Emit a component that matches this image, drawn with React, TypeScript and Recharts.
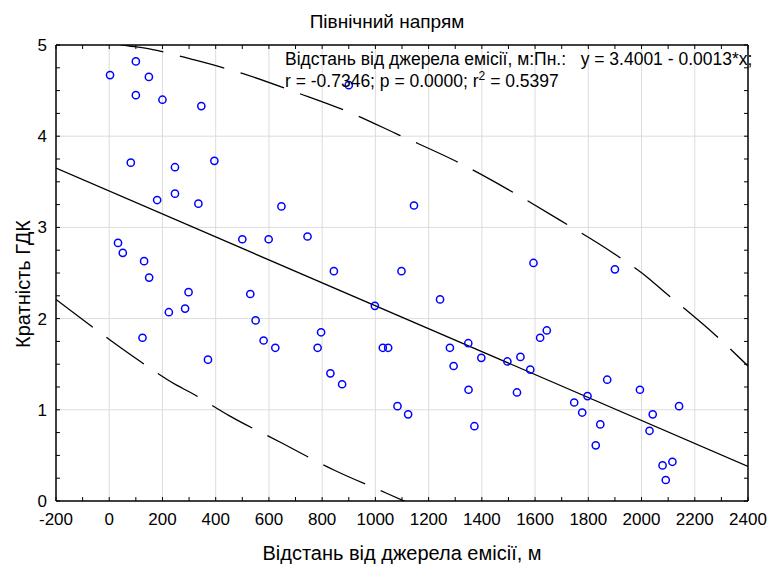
import React from 'react';
import { ComposedChart, XAxis, YAxis, Scatter, Line, ReferenceLine } from 'recharts';

const distX = [3, 100, 149, 100, 200, 346, 900, 81, 247, 395, 180, 247, 335, 647, 500, 599, 745, 844, 1098, 33, 51, 131, 150, 298, 224, 285, 530, 550, 125, 580, 624, 371, 783, 796, 831, 875, 998, 1028, 1048, 1083, 1123, 1243, 1594, 1900, 1145, 1280, 1349, 1294, 1398, 1350, 1372, 1496, 1545, 1582, 1532, 1619, 1644, 1747, 1797, 1777, 1871, 1845, 1828, 1994, 2042, 2030, 2141, 2079, 2116, 2091];
const ratioY = [4.67, 4.82, 4.65, 4.45, 4.40, 4.33, 4.56, 3.71, 3.66, 3.73, 3.30, 3.37, 3.26, 3.23, 2.87, 2.87, 2.90, 2.52, 2.52, 2.83, 2.72, 2.63, 2.45, 2.29, 2.07, 2.11, 2.27, 1.98, 1.79, 1.76, 1.68, 1.55, 1.68, 1.85, 1.40, 1.28, 2.14, 1.68, 1.68, 1.04, 0.95, 2.21, 2.61, 2.54, 3.24, 1.68, 1.73, 1.48, 1.57, 1.22, 0.82, 1.53, 1.58, 1.44, 1.19, 1.79, 1.87, 1.08, 1.15, 0.97, 1.33, 0.84, 0.61, 1.22, 0.95, 0.77, 1.04, 0.39, 0.43, 0.23];

const fitX = [-200, 2400];
const fitY = [3.65, 0.38];

const upperX = [-200, 52, 164, 315, 503, 703, 904, 1091, 1303, 1496, 1690, 1890, 2027, 2083, 2277, 2400];
const upperY = [5.13, 5.0, 4.95, 4.84, 4.686, 4.48, 4.26, 4.01, 3.725, 3.42, 3.085, 2.725, 2.44, 2.30, 1.82, 1.48];

const lowerX = [-200, 3, 109, 253, 302, 452, 652, 846, 1040, 1200];
const lowerY = [2.21, 1.766, 1.546, 1.27, 1.195, 0.934, 0.63, 0.337, 0.088, -0.12];

const xTicks = [-200, -100, 0, 100, 200, 300, 400, 500, 600, 700, 800, 900, 1000, 1100, 1200, 1300, 1400, 1500, 1600, 1700, 1800, 1900, 2000, 2100, 2200, 2300, 2400];
const xMajor = [-200, 0, 200, 400, 600, 800, 1000, 1200, 1400, 1600, 1800, 2000, 2200, 2400];
const yTicks = [0, 0.25, 0.5, 0.75, 1, 1.25, 1.5, 1.75, 2, 2.25, 2.5, 2.75, 3, 3.25, 3.5, 3.75, 4, 4.25, 4.5, 4.75, 5];
const yMajor = [0, 1, 2, 3, 4, 5];
const xGrid = [0, 200, 400, 600, 800, 1000, 1200, 1400, 1600, 1800, 2000, 2200];
const yGrid = [1, 2, 3, 4];

const title = 'Північний напрям';
const xLabel = 'Відстань від джерела емісії, м';
const yLabel = 'Кратність ГДК';
const note1 = 'Відстань від джерела емісії, м:Пн.:   y = 3.4001 - 0.0013*x;';
const note2a = 'r = -0.7346; p = 0.0000; r';
const note2b = ' = 0.5397';

const pts = distX.map((x, i) => ({ x, y: ratioY[i] }));
const fit = fitX.map((x, i) => ({ x, y: fitY[i] }));
const upper = upperX.map((x, i) => ({ x, y: upperY[i] }));
const lower = lowerX.map((x, i) => ({ x, y: lowerY[i] }));

const FONT = '"Liberation Sans", Arial, sans-serif';
const TL = 4;

const BottomTick = (p: any) => {
  const v = p.payload.value;
  return (
    <g>
      <line x1={p.x} x2={p.x} y1={p.y} y2={p.y - TL} stroke="#000" strokeWidth={1} />
      {xMajor.includes(v) && (
        <text x={p.x} y={p.y + 24} textAnchor="middle" fontFamily={FONT} fontSize={17} fill="#000">{v}</text>
      )}
    </g>
  );
};
const TopTick = (p: any) => (
  <line x1={p.x} x2={p.x} y1={p.y} y2={p.y + TL} stroke="#000" strokeWidth={1} />
);
const LeftTick = (p: any) => {
  const v = p.payload.value;
  return (
    <g>
      <line x1={p.x} x2={p.x + TL} y1={p.y} y2={p.y} stroke="#000" strokeWidth={1} />
      {yMajor.includes(v) && (
        <text x={p.x - 9} y={p.y + 6} textAnchor="end" fontFamily={FONT} fontSize={17} fill="#000">{v}</text>
      )}
    </g>
  );
};
const RightTick = (p: any) => (
  <line x1={p.x} x2={p.x - TL} y1={p.y} y2={p.y} stroke="#000" strokeWidth={1} />
);

const Ring = (p: any) => (
  <circle cx={p.cx} cy={p.cy} r={3.6} fill="none" stroke="#0000ff" strokeWidth={1.5} />
);

export default function App() {
  return (
    <div style={{ position: 'absolute', left: 0, top: 0, width: 767, height: 565, background: '#fff' }}>
      <ComposedChart width={767} height={565} margin={{ top: 40, right: 14, left: 0, bottom: 0 }}>
        <XAxis xAxisId="b" type="number" dataKey="x" orientation="bottom" domain={[-200, 2400]} ticks={xTicks}
          interval={0} allowDataOverflow height={64} tickSize={0} tickMargin={0} tickLine={false}
          axisLine={{ stroke: '#000', strokeWidth: 1.5 }} tick={BottomTick} />
        <XAxis xAxisId="t" type="number" dataKey="x" orientation="top" domain={[-200, 2400]} ticks={xTicks}
          interval={0} allowDataOverflow height={5} tickSize={0} tickMargin={0} tickLine={false}
          axisLine={{ stroke: '#000', strokeWidth: 1.5 }} tick={TopTick} />
        <YAxis yAxisId="l" type="number" dataKey="y" orientation="left" domain={[0, 5]} ticks={yTicks}
          interval={0} allowDataOverflow width={56} tickSize={0} tickMargin={0} tickLine={false}
          axisLine={{ stroke: '#000', strokeWidth: 1.5 }} tick={LeftTick} />
        <YAxis yAxisId="r" type="number" dataKey="y" orientation="right" domain={[0, 5]} ticks={yTicks}
          interval={0} allowDataOverflow width={5} tickSize={0} tickMargin={0} tickLine={false}
          axisLine={{ stroke: '#000', strokeWidth: 1.5 }} tick={RightTick} />
        {xGrid.map((v) => (
          <ReferenceLine key={'gx' + v} xAxisId="b" yAxisId="l" x={v} stroke="#dcdcdc" strokeWidth={1} />
        ))}
        {yGrid.map((v) => (
          <ReferenceLine key={'gy' + v} xAxisId="b" yAxisId="l" y={v} stroke="#dcdcdc" strokeWidth={1} />
        ))}
        <Line xAxisId="b" yAxisId="l" data={upper} dataKey="y" type="monotone" stroke="#000" strokeWidth={1.3}
          strokeDasharray="46 17" dot={false} isAnimationActive={false} />
        <Line xAxisId="b" yAxisId="l" data={lower} dataKey="y" type="monotone" stroke="#000" strokeWidth={1.3}
          strokeDasharray="46 17" dot={false} isAnimationActive={false} />
        <Line xAxisId="b" yAxisId="l" data={fit} dataKey="y" type="linear" stroke="#000" strokeWidth={1.3}
          dot={false} isAnimationActive={false} />
        <Scatter xAxisId="b" yAxisId="l" data={pts} dataKey="y" shape={Ring} isAnimationActive={false} />
      </ComposedChart>
      <svg width={767} height={565} style={{ position: 'absolute', left: 0, top: 0, pointerEvents: 'none' }}>
        <text x={387} y={28} textAnchor="middle" fontFamily={FONT} fontSize={19} fill="#000">{title}</text>
        <text x={285} y={65} fontFamily={FONT} fontSize={17.5} fill="#000" style={{ whiteSpace: 'pre' }}>{note1}</text>
        <text x={285} y={87} fontFamily={FONT} fontSize={17.5} fill="#000">
          {note2a}
          <tspan dy={-7} fontSize={12}>2</tspan>
          <tspan dy={7}>{note2b}</tspan>
        </text>
        <text x={402} y={560} textAnchor="middle" fontFamily={FONT} fontSize={20} fill="#000">{xLabel}</text>
        <text x={30} y={284} textAnchor="middle" fontFamily={FONT} fontSize={20} fill="#000"
          transform="rotate(-90 30 284)">{yLabel}</text>
      </svg>
    </div>
  );
}
